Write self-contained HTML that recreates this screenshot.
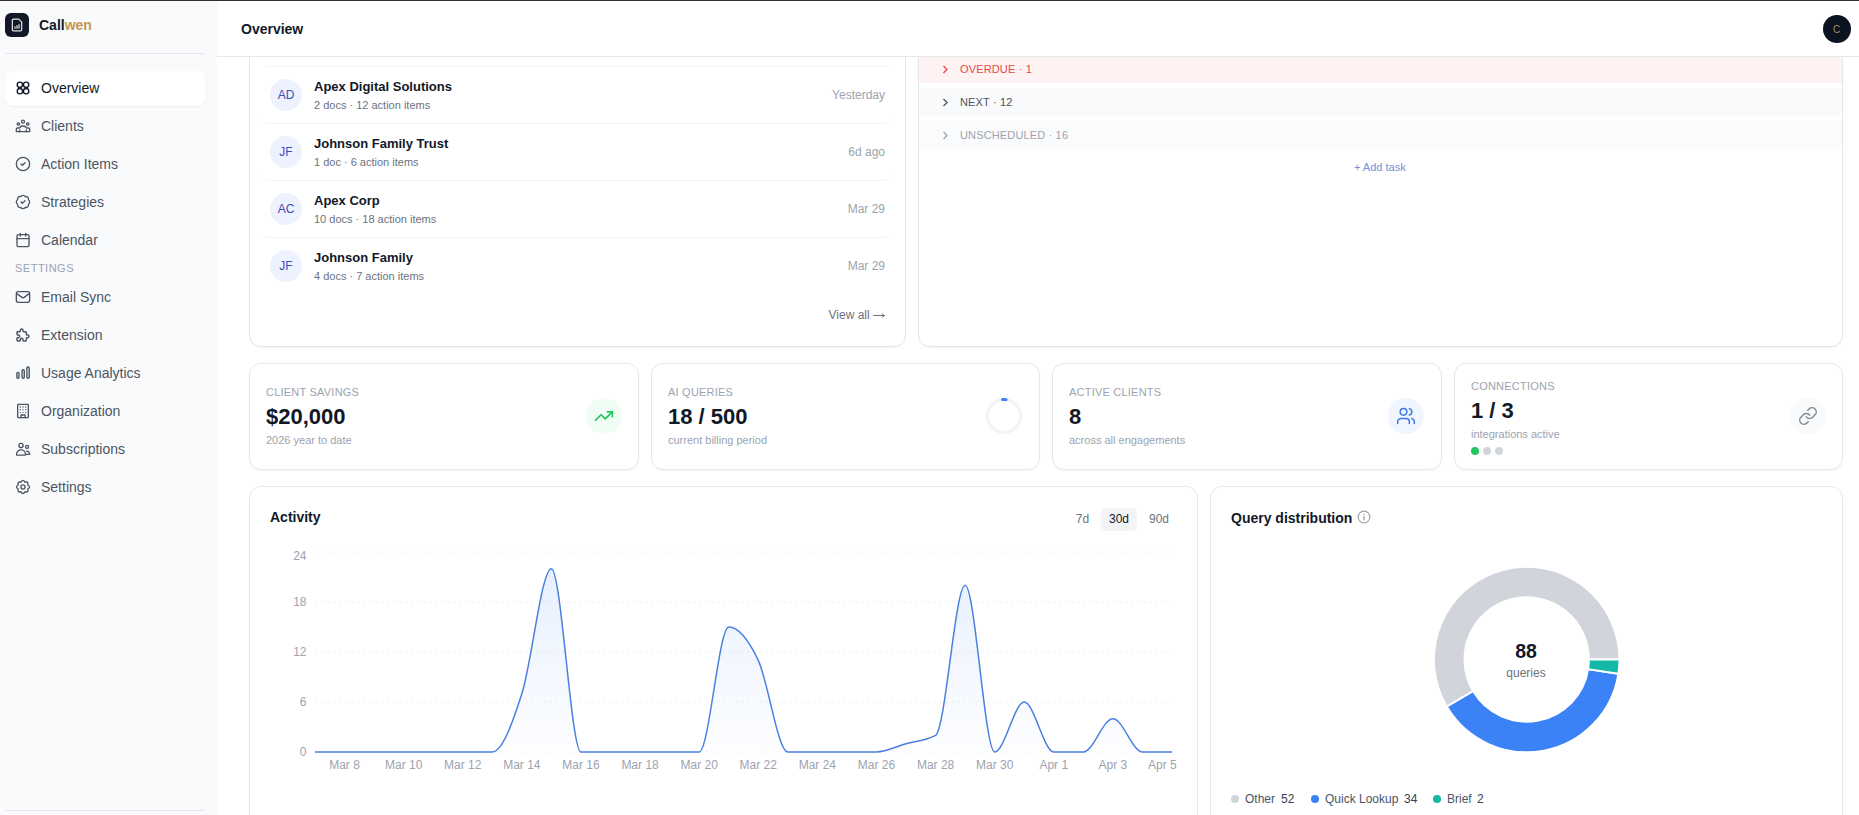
<!DOCTYPE html>
<html><head><meta charset="utf-8">
<style>
*{box-sizing:border-box;margin:0;padding:0}
html,body{width:1859px;height:815px;overflow:hidden;background:#fff;font-family:"Liberation Sans",sans-serif;color:#111827}
body{position:relative}
.a{position:absolute;white-space:nowrap}
#topline{position:absolute;left:0;top:0;width:1859px;height:1px;background:#2f2f31;z-index:50}
#side{position:absolute;left:0;top:1px;width:217px;height:814px;background:#f9fafb;z-index:30}
.logo{position:absolute;left:5px;top:12px;width:24px;height:24px;border-radius:6px;background:#111827}
.logo svg{position:absolute}
.brand{position:absolute;left:39px;top:16px;font-size:14px;font-weight:700;color:#111827;line-height:16px}
.brand span{color:#c1964f}
.sdiv{position:absolute;left:5px;width:200px;height:1px;background:#e5e7eb}
.nav{position:absolute;left:5px;width:200px;height:35px;border-radius:8px;font-size:14px;color:#4b5563}
.nav.act{background:#fff;color:#111827;box-shadow:0 1px 2px rgba(0,0,0,.06)}
.nav svg{position:absolute;left:10px;top:9px}
.nav .t{position:absolute;left:36px;top:9px;line-height:16px}
.slabel{position:absolute;left:15px;top:261px;font-size:11px;letter-spacing:.5px;color:#9ca3af;line-height:13px}
#hdr{position:absolute;left:217px;top:1px;width:1642px;height:56px;background:#fff;border-bottom:1px solid #e5e7eb;z-index:20}
#hdr .ttl{position:absolute;left:24px;top:20px;font-size:14px;font-weight:700;color:#111827;line-height:16px}
.av{position:absolute;left:1606px;top:14px;width:28px;height:28px;border-radius:50%;background:#0b1220;color:#a58a60;font-size:10px;text-align:center;line-height:29px;text-indent:-1px}
.card{position:absolute;background:#fff;border:1px solid #e6e7e9;border-radius:12px;box-shadow:0 1px 2px rgba(0,0,0,.04)}
.row{position:absolute;left:263px;width:627px;height:57px;border-bottom:1px solid #f3f4f6;border-radius:6px}
.avt{position:absolute;left:270px;width:32px;height:32px;border-radius:50%;background:#eef2fe;color:#3a4eb4;font-size:12px;text-align:center;line-height:32px}
.nm{position:absolute;left:314px;font-size:13px;font-weight:700;color:#111827;line-height:15px}
.sb{position:absolute;left:314px;font-size:11px;color:#6b7280;line-height:13px}
.dt{position:absolute;right:974px;font-size:12px;color:#9ca3af;line-height:14px}
.trow{position:absolute;left:919px;width:923px;height:28px}
.trow svg{position:absolute;left:23px;top:10px}
.trow .t{position:absolute;left:41px;top:8px;font-size:11px;letter-spacing:.15px;line-height:13px}
.lbl{position:absolute;font-size:11px;letter-spacing:.22px;color:#9ca3af;line-height:13px}
.val{position:absolute;font-size:22px;font-weight:700;color:#111827;line-height:26px}
.sub{position:absolute;font-size:11px;color:#9ca3af;line-height:13px}
.ic{position:absolute;width:36px;height:36px;border-radius:50%}
.ic svg{position:absolute;left:10px;top:10px}
.ttl2{position:absolute;font-size:14px;font-weight:700;color:#111827;line-height:16px}
.tog{position:absolute;top:507.5px;height:23px;font-size:12px;line-height:23px;color:#6b7280;text-align:center;border-radius:5px}
.lg{position:absolute;top:792px;font-size:12px;line-height:14px;color:#4b5563}
.lgv{position:absolute;top:792px;font-size:12px;line-height:14px;color:#374151}
.dot{position:absolute;width:8px;height:8px;border-radius:50%}
</style></head><body>
<div id="topline"></div>
<div id="side">
  <div class="logo"><svg style="left:5px;top:5px" width="14" height="14" viewBox="0 0 24 24" fill="none" stroke="#e5e7eb" stroke-width="2.1" stroke-linecap="round" stroke-linejoin="round"><path d="M15 2H6a2 2 0 0 0-2 2v16a2 2 0 0 0 2 2h12a2 2 0 0 0 2-2V7z"/><path d="M8.5 17.5v-2.5M12 17.5v-4.5M15.5 17.5v-6"/></svg></div>
  <div class="brand">Call<span>wen</span></div>
  <div class="sdiv" style="top:52px"></div>
  <div class="nav act" style="top:70px"><svg width="16" height="16" viewBox="0 0 24 24" fill="none" stroke="#111827" stroke-width="2" stroke-linecap="round" stroke-linejoin="round"><circle cx="7.3" cy="7.3" r="4"/><circle cx="16.7" cy="7.3" r="4"/><circle cx="7.3" cy="16.7" r="4"/><circle cx="16.7" cy="16.7" r="4"/></svg><span class="t">Overview</span></div>
  <div class="nav" style="top:108px"><svg width="16" height="16" viewBox="0 0 24 24" fill="none" stroke="#4b5563" stroke-width="2" stroke-linecap="round" stroke-linejoin="round"><circle cx="12" cy="5.5" r="2.2"/><circle cx="5" cy="9" r="1.8"/><circle cx="19" cy="9" r="1.8"/><path d="M2 20.5v-4a1.5 1.5 0 0 1 1.5-1.5H6.5a6 5 0 0 1 11 0h3a1.5 1.5 0 0 1 1.5 1.5v4z"/><path d="M7 20.5v-2.5M17 20.5v-2.5"/></svg><span class="t">Clients</span></div>
  <div class="nav" style="top:146px"><svg width="16" height="16" viewBox="0 0 24 24" fill="none" stroke="#4b5563" stroke-width="2" stroke-linecap="round" stroke-linejoin="round"><circle cx="12" cy="12" r="10"/><path d="m9 12 2 2 4-4"/></svg><span class="t">Action Items</span></div>
  <div class="nav" style="top:184px"><svg width="16" height="16" viewBox="0 0 24 24" fill="none" stroke="#4b5563" stroke-width="2" stroke-linecap="round" stroke-linejoin="round"><path d="M3.85 8.62a4 4 0 0 1 4.78-4.77 4 4 0 0 1 6.74 0 4 4 0 0 1 4.78 4.78 4 4 0 0 1 0 6.74 4 4 0 0 1-4.77 4.78 4 4 0 0 1-6.75 0 4 4 0 0 1-4.78-4.77 4 4 0 0 1 0-6.76Z"/><path d="m9 12 2 2 4-4"/></svg><span class="t">Strategies</span></div>
  <div class="nav" style="top:222px"><svg width="16" height="16" viewBox="0 0 24 24" fill="none" stroke="#4b5563" stroke-width="2" stroke-linecap="round" stroke-linejoin="round"><path d="M8 2v4M16 2v4"/><rect width="18" height="18" x="3" y="4" rx="2"/><path d="M3 10h18"/></svg><span class="t">Calendar</span></div>
  <div class="slabel">SETTINGS</div>
  <div class="nav" style="top:279px"><svg width="16" height="16" viewBox="0 0 24 24" fill="none" stroke="#4b5563" stroke-width="2" stroke-linecap="round" stroke-linejoin="round"><rect width="20" height="16" x="2" y="4" rx="3"/><path d="M2.5 7l8.5 6a2 2 0 0 0 2 0l8.5-6"/></svg><span class="t">Email Sync</span></div>
  <div class="nav" style="top:317px"><svg width="16" height="16" viewBox="0 0 24 24" fill="none" stroke="#4b5563" stroke-width="2.2" stroke-linecap="round" stroke-linejoin="round"><path d="M4 7h3a1 1 0 0 0 1-1v-1a2 2 0 0 1 4 0v1a1 1 0 0 0 1 1h3a1 1 0 0 1 1 1v3a1 1 0 0 0 1 1h1a2 2 0 0 1 0 4h-1a1 1 0 0 0-1 1v3a1 1 0 0 1-1 1h-3a1 1 0 0 1-1-1v-1a2 2 0 0 0-4 0v1a1 1 0 0 1-1 1h-3a1 1 0 0 1-1-1v-3a1 1 0 0 1 1-1h1a2 2 0 0 0 0-4h-1a1 1 0 0 1-1-1v-3a1 1 0 0 1 1-1"/></svg><span class="t">Extension</span></div>
  <div class="nav" style="top:355px"><svg width="16" height="16" viewBox="0 0 24 24" fill="none" stroke="#4b5563" stroke-width="2.1" stroke-linecap="round" stroke-linejoin="round"><rect x="2.8" y="11" width="3.2" height="8.8" rx="1.5"/><rect x="10.6" y="7.1" width="3.3" height="12.7" rx="1.5"/><rect x="17.8" y="3.1" width="3.5" height="16.7" rx="1.6"/></svg><span class="t">Usage Analytics</span></div>
  <div class="nav" style="top:393px"><svg width="16" height="16" viewBox="0 0 24 24" fill="none" stroke="#4b5563" stroke-width="2" stroke-linecap="round" stroke-linejoin="round"><rect width="16" height="20" x="4" y="2" rx="1"/><path d="M9 22v-4h6v4"/><path d="M8 6h.01M16 6h.01M12 6h.01M12 10h.01M12 14h.01M16 10h.01M16 14h.01M8 10h.01M8 14h.01"/></svg><span class="t">Organization</span></div>
  <div class="nav" style="top:431px"><svg width="16" height="16" viewBox="0 0 24 24" fill="none" stroke="#4b5563" stroke-width="2" stroke-linecap="round" stroke-linejoin="round"><circle cx="9" cy="6.8" r="3.2"/><circle cx="18.1" cy="8.8" r="2.3"/><path d="M2.2 20.2c0-4 3-6.8 6.8-6.8s6.8 2.8 6.8 6.8c0 .6-.4 1-1 1H3.2c-.6 0-1-.4-1-1z"/><path d="M15.8 20h5.6c.6 0 .9-.5.7-1-.8-2.3-2.6-3.8-5-3.8"/></svg><span class="t">Subscriptions</span></div>
  <div class="nav" style="top:469px"><svg width="16" height="16" viewBox="0 0 24 24" fill="none" stroke="#4b5563" stroke-width="2" stroke-linecap="round" stroke-linejoin="round"><path d="M9.05 4.89Q12.00 -0.60 14.95 4.89Q20.91 3.09 19.11 9.05Q24.60 12.00 19.11 14.95Q20.91 20.91 14.95 19.11Q12.00 24.60 9.05 19.11Q3.09 20.91 4.89 14.95Q-0.60 12.00 4.89 9.05Q3.09 3.09 9.05 4.89Z"/><circle cx="12" cy="12" r="3.1"/></svg><span class="t">Settings</span></div>
  <div class="sdiv" style="top:809px"></div>
</div>
<div id="hdr"><div class="ttl">Overview</div><div class="av">C</div></div>

<!-- clients card -->
<div class="card" style="left:249px;top:-40px;width:657px;height:387px"></div>
<div class="row" style="top:10px"></div>
<div class="row" style="top:67px"></div>
<div class="row" style="top:124px"></div>
<div class="row" style="top:181px"></div>
<div class="row" style="top:238px;border-bottom:0"></div>

<div class="avt" style="top:79px">AD</div>
<div class="nm" style="top:79px">Apex Digital Solutions</div>
<div class="sb" style="top:99px">2 docs · 12 action items</div>
<div class="dt a" style="top:88px">Yesterday</div>

<div class="avt" style="top:136px">JF</div>
<div class="nm" style="top:136px">Johnson Family Trust</div>
<div class="sb" style="top:156px">1 doc · 6 action items</div>
<div class="dt a" style="top:145px">6d ago</div>

<div class="avt" style="top:193px">AC</div>
<div class="nm" style="top:193px">Apex Corp</div>
<div class="sb" style="top:213px">10 docs · 18 action items</div>
<div class="dt a" style="top:202px">Mar 29</div>

<div class="avt" style="top:250px">JF</div>
<div class="nm" style="top:250px">Johnson Family</div>
<div class="sb" style="top:270px">4 docs · 7 action items</div>
<div class="dt a" style="top:259px">Mar 29</div>

<div class="a" style="left:828.5px;top:308px;font-size:12px;line-height:14px;color:#6b7280">View all</div><svg class="a" style="left:872px;top:311px" width="14" height="9" viewBox="0 0 14 9" fill="none" stroke="#6b7280" stroke-width="1"><path d="M1.2 4.5H12.5M9.8 2.7L12.6 4.5 9.8 6.3"/></svg>

<!-- tasks card -->
<div class="card" style="left:918px;top:-40px;width:925px;height:387px"></div>
<div class="trow" style="top:55px;background:#fef2f2"><svg width="7" height="10" viewBox="0 0 7 10" fill="none" stroke="#ef4444" stroke-width="1.3"><path d="M1.5 1l3.5 3.5-3.5 3.5"/></svg><span class="t" style="color:#e5484d">OVERDUE · 1</span></div>
<div class="trow" style="top:88px;background:#f9fafb"><svg width="7" height="10" viewBox="0 0 7 10" fill="none" stroke="#4b5563" stroke-width="1.3"><path d="M1.5 1l3.5 3.5-3.5 3.5"/></svg><span class="t" style="color:#4b5563">NEXT · 12</span></div>
<div class="trow" style="top:121px;background:#fafbfc"><svg width="7" height="10" viewBox="0 0 7 10" fill="none" stroke="#9ca3af" stroke-width="1.3"><path d="M1.5 1l3.5 3.5-3.5 3.5"/></svg><span class="t" style="color:#9ca3af">UNSCHEDULED · 16</span></div>
<div class="a" style="left:1354px;top:161px;font-size:11px;line-height:13px;color:#7391de">+ Add task</div>

<!-- stat cards -->
<div class="card" style="left:249px;top:363px;width:390px;height:107px"></div>
<div class="lbl" style="left:266px;top:386px">CLIENT SAVINGS</div>
<div class="val a" style="left:266px;top:404px">$20,000</div>
<div class="sub a" style="left:266px;top:434px">2026 year to date</div>
<div class="ic" style="left:586px;top:398px;background:#f0fdf4"><svg style="left:8px;top:8px" width="20" height="20" viewBox="0 0 24 24" fill="none" stroke="#22c55e" stroke-width="2" stroke-linecap="round" stroke-linejoin="round"><path d="M22 7L13.5 15.5 8.5 10.5 2 17"/><path d="M16 7h6v6"/></svg></div>

<div class="card" style="left:651px;top:363px;width:389px;height:107px"></div>
<div class="lbl" style="left:668px;top:386px">AI QUERIES</div>
<div class="val a" style="left:668px;top:404px">18 / 500</div>
<div class="sub a" style="left:668px;top:434px">current billing period</div>
<svg class="a" style="left:984px;top:396px" width="40" height="40" viewBox="0 0 40 40"><circle cx="20" cy="20" r="16.5" fill="none" stroke="#f3f4f6" stroke-width="3"/><circle cx="20" cy="20" r="16.5" fill="none" stroke="#3b82f6" stroke-width="3" stroke-linecap="round" stroke-dasharray="3.6 200" transform="rotate(-95 20 20)"/></svg>

<div class="card" style="left:1052px;top:363px;width:390px;height:107px"></div>
<div class="lbl" style="left:1069px;top:386px">ACTIVE CLIENTS</div>
<div class="val a" style="left:1069px;top:404px">8</div>
<div class="sub a" style="left:1069px;top:434px">across all engagements</div>
<div class="ic" style="left:1388px;top:398px;background:#eff6ff"><svg style="left:8px;top:8px" width="20" height="20" viewBox="0 0 24 24" fill="none" stroke="#3b78e0" stroke-width="1.8" stroke-linecap="round" stroke-linejoin="round"><path d="M16 21v-2a4 4 0 0 0-4-4H6a4 4 0 0 0-4 4v2"/><circle cx="9" cy="7" r="4"/><path d="M22 21v-2a4 4 0 0 0-3-3.87M16 3.13a4 4 0 0 1 0 7.75"/></svg></div>

<div class="card" style="left:1454px;top:363px;width:389px;height:107px"></div>
<div class="lbl" style="left:1471px;top:380px">CONNECTIONS</div>
<div class="val a" style="left:1471px;top:398px">1 / 3</div>
<div class="sub a" style="left:1471px;top:428px">integrations active</div>
<div class="dot" style="left:1471px;top:447px;background:#22c55e"></div>
<div class="dot" style="left:1483px;top:447px;background:#d1d5db"></div>
<div class="dot" style="left:1495px;top:447px;background:#d1d5db"></div>
<div class="ic" style="left:1790px;top:398px;background:#f9fafb"><svg style="left:8px;top:8px" width="20" height="20" viewBox="0 0 24 24" fill="none" stroke="#858c97" stroke-width="1.8" stroke-linecap="round" stroke-linejoin="round"><path d="M10 13a5 5 0 0 0 7.54.54l3-3a5 5 0 0 0-7.07-7.07l-1.72 1.71"/><path d="M14 11a5 5 0 0 0-7.54-.54l-3 3a5 5 0 0 0 7.07 7.07l1.71-1.71"/></svg></div>

<!-- activity -->
<div class="card" style="left:249px;top:486px;width:949px;height:400px"></div>
<div class="ttl2" style="left:270px;top:509px">Activity</div>
<div class="tog" style="left:1068px;width:29px">7d</div>
<div class="tog" style="left:1101px;width:36px;background:#f3f4f6;color:#111827">30d</div>
<div class="tog" style="left:1141px;width:36px">90d</div>
<svg class="a" style="left:0;top:0" width="1859" height="815" viewBox="0 0 1859 815">
  <defs><linearGradient id="g" x1="0" y1="0" x2="0" y2="1"><stop offset="0" stop-color="#3b82f6" stop-opacity=".12"/><stop offset="1" stop-color="#3b82f6" stop-opacity=".01"/></linearGradient></defs>
  <g stroke="#f1f2f4" stroke-width="1" stroke-dasharray="3 3">
    <path d="M315 552H1172M315 602H1172M315 652H1172M315 702H1172M315 752H1172"/>
  </g>
  <path d="M315.00,752.00C324.85,752.00,334.70,752.00,344.55,752.00C354.40,752.00,364.25,752.00,374.10,752.00C383.95,752.00,393.80,752.00,403.66,752.00C413.51,752.00,423.36,752.00,433.21,752.00C443.06,752.00,452.91,752.00,462.76,752.00C472.61,752.00,482.46,752.00,492.31,752.00C502.16,752.00,512.01,724.22,521.86,693.67C531.71,663.11,541.56,568.67,551.41,568.67C561.26,568.67,571.11,752.00,580.97,752.00C590.82,752.00,600.67,752.00,610.52,752.00C620.37,752.00,630.22,752.00,640.07,752.00C649.92,752.00,659.77,752.00,669.62,752.00C679.47,752.00,689.32,752.00,699.17,752.00C709.02,752.00,718.87,627.00,728.72,627.00C738.57,627.00,748.43,639.50,758.28,660.33C768.13,681.17,777.98,752.00,787.83,752.00C797.68,752.00,807.53,752.00,817.38,752.00C827.23,752.00,837.08,752.00,846.93,752.00C856.78,752.00,866.63,752.00,876.48,752.00C886.33,752.00,896.18,746.44,906.03,743.67C915.89,740.89,925.74,740.89,935.59,735.33C945.44,729.78,955.29,585.33,965.14,585.33C974.99,585.33,984.84,752.00,994.69,752.00C1004.54,752.00,1014.39,702.00,1024.24,702.00C1034.09,702.00,1043.94,752.00,1053.79,752.00C1063.64,752.00,1073.49,752.00,1083.34,752.00C1093.20,752.00,1103.05,718.67,1112.90,718.67C1122.75,718.67,1132.60,752.00,1142.45,752.00C1152.30,752.00,1162.15,752.00,1172.00,752.00L1172.00,752.00L315.00,752.00Z" fill="url(#g)" stroke="none" transform="translate(0 0)"/>
  <path d="M315.00,752.00C324.85,752.00,334.70,752.00,344.55,752.00C354.40,752.00,364.25,752.00,374.10,752.00C383.95,752.00,393.80,752.00,403.66,752.00C413.51,752.00,423.36,752.00,433.21,752.00C443.06,752.00,452.91,752.00,462.76,752.00C472.61,752.00,482.46,752.00,492.31,752.00C502.16,752.00,512.01,724.22,521.86,693.67C531.71,663.11,541.56,568.67,551.41,568.67C561.26,568.67,571.11,752.00,580.97,752.00C590.82,752.00,600.67,752.00,610.52,752.00C620.37,752.00,630.22,752.00,640.07,752.00C649.92,752.00,659.77,752.00,669.62,752.00C679.47,752.00,689.32,752.00,699.17,752.00C709.02,752.00,718.87,627.00,728.72,627.00C738.57,627.00,748.43,639.50,758.28,660.33C768.13,681.17,777.98,752.00,787.83,752.00C797.68,752.00,807.53,752.00,817.38,752.00C827.23,752.00,837.08,752.00,846.93,752.00C856.78,752.00,866.63,752.00,876.48,752.00C886.33,752.00,896.18,746.44,906.03,743.67C915.89,740.89,925.74,740.89,935.59,735.33C945.44,729.78,955.29,585.33,965.14,585.33C974.99,585.33,984.84,752.00,994.69,752.00C1004.54,752.00,1014.39,702.00,1024.24,702.00C1034.09,702.00,1043.94,752.00,1053.79,752.00C1063.64,752.00,1073.49,752.00,1083.34,752.00C1093.20,752.00,1103.05,718.67,1112.90,718.67C1122.75,718.67,1132.60,752.00,1142.45,752.00C1152.30,752.00,1162.15,752.00,1172.00,752.00" fill="none" stroke="#4a80e0" stroke-width="1.5"/>
  <g font-family="Liberation Sans" font-size="12" fill="#9ca3af" text-anchor="end">
    <text x="306.5" y="560">24</text><text x="306.5" y="606.3">18</text><text x="306.5" y="656.3">12</text><text x="306.5" y="706.3">6</text><text x="306.5" y="756.3">0</text>
  </g>
  <g font-family="Liberation Sans" font-size="12" fill="#9ca3af" text-anchor="middle">
    <text x="344.55" y="769">Mar 8</text><text x="403.66" y="769">Mar 10</text><text x="462.76" y="769">Mar 12</text><text x="521.86" y="769">Mar 14</text><text x="580.97" y="769">Mar 16</text><text x="640.07" y="769">Mar 18</text><text x="699.17" y="769">Mar 20</text><text x="758.28" y="769">Mar 22</text><text x="817.38" y="769">Mar 24</text><text x="876.48" y="769">Mar 26</text><text x="935.59" y="769">Mar 28</text><text x="994.69" y="769">Mar 30</text><text x="1053.79" y="769">Apr 1</text><text x="1112.90" y="769">Apr 3</text><text x="1162.3" y="769">Apr 5</text>
  </g>
</svg>

<div class="card" style="left:1210px;top:486px;width:633px;height:400px"></div>
<div class="ttl2" style="left:1231px;top:509.5px">Query distribution</div>
<svg class="a" style="left:0;top:0" width="1859" height="815" viewBox="0 0 1859 815"><path d="M1619.50,659.50A92.8,92.8,0,1,0,1446.74,706.60L1473.11,691.07A62.2,62.2,0,1,1,1588.90,659.50Z" fill="#d1d5db" stroke="#fff" stroke-width="2"/><path d="M1446.74,706.60A92.8,92.8,0,0,0,1618.38,673.86L1588.15,669.12A62.2,62.2,0,0,1,1473.11,691.07Z" fill="#3b82f6" stroke="#fff" stroke-width="2"/><path d="M1618.38,673.86A92.8,92.8,0,0,0,1619.50,659.50L1588.90,659.50A62.2,62.2,0,0,1,1588.15,669.12Z" fill="#14b8a6" stroke="#fff" stroke-width="2"/></svg>
<svg class="a" style="left:1357px;top:510px" width="14" height="14" viewBox="0 0 24 24" fill="none" stroke="#9ca3af" stroke-width="1.9"><circle cx="12" cy="12" r="10"/><path d="M12 16.5v-5M12 7.8h.01" stroke-linecap="round" stroke-width="2.4"/></svg>
<div class="a" style="left:1426px;width:200px;top:639.5px;text-align:center;font-size:19.5px;font-weight:700;line-height:22px;color:#111827">88</div>
<div class="a" style="left:1426px;width:200px;top:666px;text-align:center;font-size:12px;line-height:14px;color:#6b7280">queries</div>

<div class="dot" style="left:1231px;top:795px;background:#d1d5db"></div>
<div class="lg" style="left:1245px">Other</div><div class="lgv" style="left:1281px">52</div>
<div class="dot" style="left:1311px;top:795px;background:#3b82f6"></div>
<div class="lg" style="left:1325px">Quick Lookup</div><div class="lgv" style="left:1404px">34</div>
<div class="dot" style="left:1433px;top:795px;background:#14b8a6"></div>
<div class="lg" style="left:1447px">Brief</div><div class="lgv" style="left:1477px">2</div>
</body></html>
